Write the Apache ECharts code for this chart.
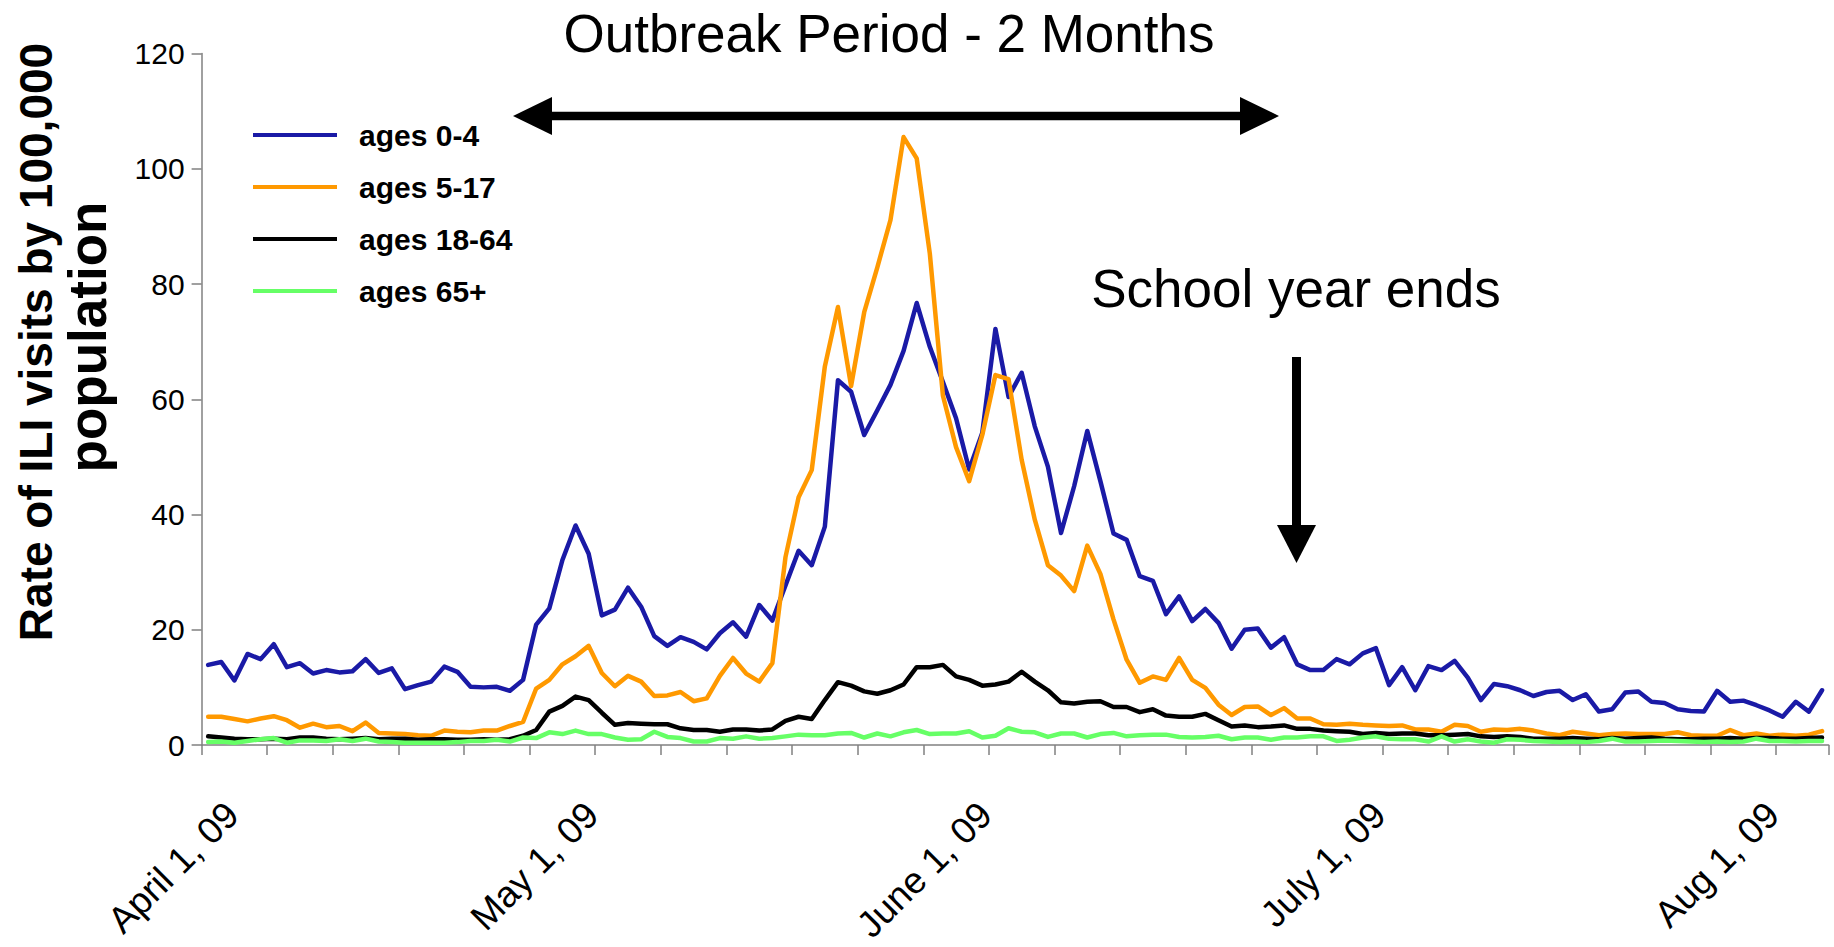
<!DOCTYPE html>
<html>
<head>
<meta charset="utf-8">
<script src="https://cdn.jsdelivr.net/npm/echarts@6/dist/echarts.min.js"></script>
<style>
html,body{margin:0;padding:0;background:#ffffff;}
#chart{width:1834px;height:947px;}
</style>
</head>
<body>
<div id="chart"></div>
<script>
// ---------------- data ----------------
const seriesNames = ['ages 0-4', 'ages 5-17', 'ages 18-64', 'ages 65+'];

const ages0to4 = [
  13.9,14.4,11.2,15.8,14.9,17.5,13.5,14.2,12.4,13.0,12.6,12.8,14.9,12.5,13.3,9.7,10.4,11.0,13.6,12.7,10.1,
  10.0,10.1,9.4,11.3,20.9,23.7,32.1,38.1,33.2,22.5,23.5,27.3,24.0,18.9,17.2,18.7,17.9,16.6,19.4,21.3,
  18.8,24.3,21.6,27.7,33.7,31.2,37.9,63.3,61.3,53.8,58.1,62.5,68.4,76.7,69.1,63.0,56.7,47.8,54.2,72.2,
  60.4,64.6,55.3,48.3,36.8,44.9,54.5,45.8,36.7,35.6,29.3,28.5,22.7,25.8,21.5,23.6,21.2,16.7,20.0,20.2,
  16.9,18.7,14.0,13.0,13.0,14.9,14.0,15.9,16.8,10.4,13.5,9.5,13.7,13.0,14.6,11.7,7.8,10.6,10.2,9.5,
  8.5,9.2,9.4,7.8,8.8,5.8,6.2,9.1,9.3,7.5,7.3,6.2,5.9,5.8,9.4,7.5,7.7,6.9,6.0,4.9,7.5,5.8,9.5
];
const ages5to17 = [
  4.9,4.9,4.5,4.1,4.6,5.0,4.3,3.0,3.7,3.1,3.3,2.4,3.9,2.1,2.0,1.9,1.7,1.6,2.5,2.3,2.2,
  2.5,2.5,3.3,4.0,9.8,11.3,14.0,15.4,17.2,12.5,10.2,12.0,11.0,8.5,8.6,9.2,7.6,8.1,12.0,15.1,
  12.4,11.0,14.2,32.6,43.0,47.7,65.7,76.0,62.3,75.1,82.9,91.1,105.5,101.8,85.3,60.6,51.7,45.8,53.8,64.2,
  63.5,49.5,39.1,31.2,29.4,26.7,34.6,29.7,21.8,14.8,10.8,11.9,11.3,15.1,11.3,9.9,7.0,5.2,6.6,6.7,
  5.2,6.4,4.6,4.6,3.6,3.5,3.7,3.5,3.4,3.3,3.4,2.7,2.7,2.3,3.5,3.3,2.3,2.7,2.6,2.8,
  2.5,2.0,1.7,2.3,2.0,1.7,1.9,2.0,1.9,1.9,1.9,2.2,1.7,1.6,1.6,2.6,1.7,2.0,1.6,1.8,1.6,1.8,2.4
];
const ages18to64 = [
  1.5,1.3,1.1,1.0,1.0,1.1,1.0,1.3,1.3,1.1,1.0,1.1,1.2,1.0,1.1,1.1,0.9,1.0,1.0,0.9,0.9,
  1.0,0.9,1.0,1.6,2.6,5.8,6.8,8.4,7.8,5.6,3.5,3.8,3.7,3.6,3.6,2.9,2.6,2.6,2.3,2.7,
  2.7,2.5,2.7,4.2,4.9,4.5,7.8,10.9,10.3,9.3,8.9,9.5,10.5,13.5,13.5,13.9,11.9,11.3,10.3,10.5,
  11.0,12.7,11.0,9.5,7.4,7.2,7.5,7.6,6.6,6.6,5.7,6.2,5.1,4.9,4.9,5.4,4.3,3.2,3.4,3.1,
  3.2,3.4,2.8,2.8,2.5,2.4,2.3,1.9,2.1,1.9,2.0,2.0,1.7,1.7,1.8,1.9,1.5,1.4,1.5,1.4,
  1.1,1.1,1.1,1.2,1.1,1.0,1.2,1.1,1.2,1.3,1.1,1.0,1.0,1.1,1.1,1.2,1.1,1.2,1.2,1.1,1.1,1.2,1.3
];
const ages65plus = [
  0.5,0.6,0.4,0.7,1.0,1.2,0.4,0.8,0.8,0.7,1.0,0.7,1.1,0.6,0.5,0.4,0.4,0.4,0.4,0.5,0.7,
  0.7,0.9,0.6,1.3,1.2,2.2,1.9,2.5,1.9,1.9,1.3,0.9,1.0,2.3,1.4,1.2,0.6,0.6,1.2,1.1,
  1.5,1.1,1.2,1.5,1.8,1.7,1.7,2.0,2.1,1.3,2.0,1.5,2.2,2.6,1.9,2.0,2.0,2.4,1.3,1.6,
  2.9,2.3,2.2,1.4,2.0,2.0,1.3,1.9,2.1,1.5,1.7,1.8,1.8,1.4,1.3,1.4,1.6,1.0,1.3,1.3,
  0.9,1.3,1.3,1.5,1.5,0.7,0.9,1.3,1.5,1.1,1.0,1.0,0.6,1.5,0.6,1.0,0.6,0.4,1.0,0.9,
  0.7,0.6,0.5,0.6,0.5,0.7,1.1,0.6,0.6,0.7,0.8,0.7,0.6,0.5,0.6,0.5,0.6,1.1,0.7,0.7,0.6,0.7,0.7
];

const tickLabels = ['April 1, 09', 'May 1, 09', 'June 1, 09', 'July 1, 09', 'Aug 1, 09'];
const labelEvery = 30;   // one date label every 30 points
const tickEvery = 5;     // one tick mark every 5 points
const categories = ages0to4.map((_, i) => 'pt' + i);

const yMin = 0, yMax = 120, yStep = 20;

const titleText = 'Outbreak Period - 2 Months';
const noteText = 'School year ends';
const yTitleLine1 = 'Rate of ILI visits by 100,000';
const yTitleLine2 = 'population';

// ---------------- chart ----------------
const SANS = '"Liberation Sans", Arial, Helvetica, sans-serif';
const colors = ['#1a1aa6', '#ff9900', '#000000', '#66ff66'];
const values = [ages0to4, ages5to17, ages18to64, ages65plus];

const chart = echarts.init(document.getElementById('chart'), null, { renderer: 'svg' });

const xLabelFont = { fontFamily: SANS, fontSize: 37, color: '#000000' };

const option = {
  animation: false,
  backgroundColor: '#ffffff',
  color: colors,
  grid: { left: 201.6, right: 5.4, top: 53.5, bottom: 202, containLabel: false, outerBoundsMode: 'none' },
  legend: {
    orient: 'vertical',
    left: 253,
    top: 120,
    padding: 0,
    icon: 'rect',
    itemWidth: 84,
    itemHeight: 4,
    itemGap: 22,
    selectedMode: false,
    data: seriesNames,
    textStyle: {
      fontFamily: SANS, fontWeight: 'bold', fontSize: 30, color: '#000000',
      lineHeight: 30, padding: [0, 0, 0, 17]
    }
  },
  xAxis: {
    type: 'category',
    data: categories,
    boundaryGap: true,
    axisLine: { lineStyle: { color: '#808080', width: 1.5 } },
    axisTick: { show: true, interval: tickEvery - 1, length: 10, lineStyle: { color: '#808080', width: 1.5 } },
    axisLabel: {
      interval: (idx) => idx % labelEvery === 0,
      formatter: (v, idx) => {
        const t = tickLabels[Math.round(idx / labelEvery)] || '';
        return idx === 0 ? '{first|' + t + '}' : '{rest|' + t + '}';
      },
      rotate: 45,
      margin: 73.6,
      fontFamily: SANS, fontSize: 37, color: '#000000',
      rich: {
        first: Object.assign({ padding: [20, -24, 0, 0] }, xLabelFont),
        rest: Object.assign({ padding: [0, 0, 28, 0] }, xLabelFont)
      }
    },
    splitLine: { show: false }
  },
  yAxis: {
    type: 'value',
    min: yMin, max: yMax, interval: yStep,
    axisLine: { show: true, lineStyle: { color: '#808080', width: 1.5 } },
    axisTick: { show: true, length: 10, lineStyle: { color: '#808080', width: 1.5 } },
    axisLabel: { margin: 17, fontFamily: SANS, fontSize: 30, color: '#000000' },
    splitLine: { show: false }
  },
  series: seriesNames.map((name, k) => ({
    name: name,
    type: 'line',
    data: values[k],
    showSymbol: false,
    symbol: 'none',
    lineStyle: { width: 4.5, color: colors[k], join: 'round', cap: 'round' },
    emphasis: { disabled: true },
    z: 2 + k
  })),
  graphic: [
    { type: 'text', x: 889, y: 33, style: { text: titleText, font: '53px ' + SANS, fill: '#000', textAlign: 'center', textVerticalAlign: 'middle' } },
    { type: 'text', x: 1296, y: 288, style: { text: noteText, font: '53px ' + SANS, fill: '#000', textAlign: 'center', textVerticalAlign: 'middle' } },
    { type: 'text', x: 36, y: 342, rotation: Math.PI / 2,
      style: { text: yTitleLine1, font: 'bold 46px ' + SANS, fill: '#000', textAlign: 'center', textVerticalAlign: 'middle' } },
    { type: 'text', x: 87, y: 337, rotation: Math.PI / 2,
      style: { text: yTitleLine2, font: 'bold 53px ' + SANS, fill: '#000', textAlign: 'center', textVerticalAlign: 'middle' } },
    // horizontal double arrow
    { type: 'line', shape: { x1: 545, y1: 116, x2: 1245, y2: 116 }, style: { stroke: '#000', lineWidth: 8.5 } },
    { type: 'polygon', shape: { points: [[513, 116], [552, 97], [552, 135]] }, style: { fill: '#000' } },
    { type: 'polygon', shape: { points: [[1279, 116], [1240, 97], [1240, 135]] }, style: { fill: '#000' } },
    // vertical arrow
    { type: 'line', shape: { x1: 1296.5, y1: 357, x2: 1296.5, y2: 530 }, style: { stroke: '#000', lineWidth: 9 } },
    { type: 'polygon', shape: { points: [[1277, 525], [1316, 525], [1296.5, 563]] }, style: { fill: '#000' } }
  ]
};
chart.setOption(option);
</script>
</body>
</html>
